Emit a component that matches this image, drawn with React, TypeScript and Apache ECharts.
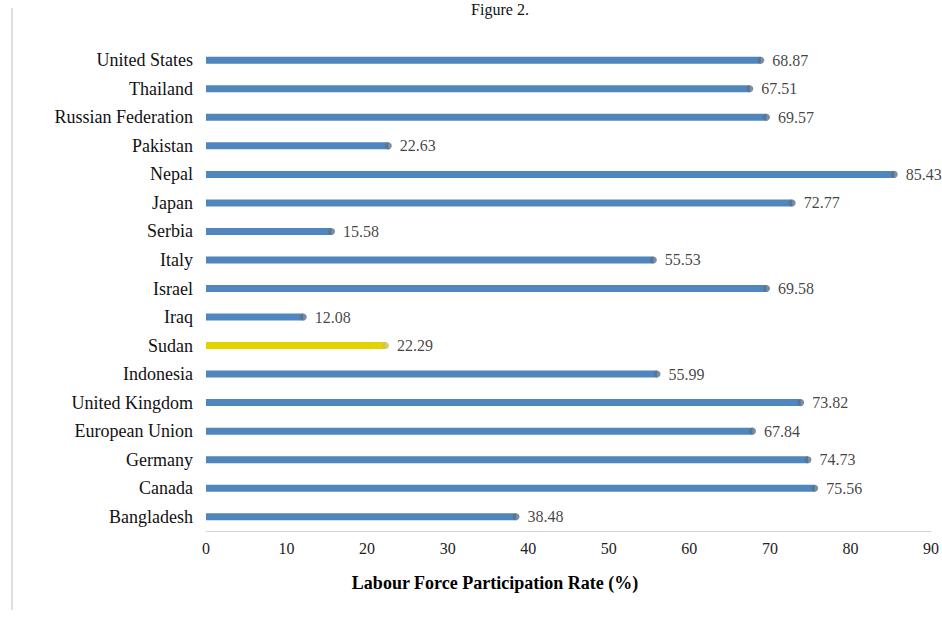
import React, { useEffect, useRef } from "react";
import * as echarts from "echarts";

const countries = [
  "United States",
  "Thailand",
  "Russian Federation",
  "Pakistan",
  "Nepal",
  "Japan",
  "Serbia",
  "Italy",
  "Israel",
  "Iraq",
  "Sudan",
  "Indonesia",
  "United Kingdom",
  "European Union",
  "Germany",
  "Canada",
  "Bangladesh",
];

const rates = [
  68.87, 67.51, 69.57, 22.63, 85.43, 72.77, 15.58, 55.53, 69.58, 12.08, 22.29,
  55.99, 73.82, 67.84, 74.73, 75.56, 38.48,
];

const highlighted = "Sudan";

const xTicks = { min: 0, max: 90, interval: 10 };

const titleText = "Figure 2.";
const axisTitle = "Labour Force Participation Rate (%)";

const FONT = '"Liberation Serif", "DejaVu Serif", "Times New Roman", serif';

export default function App() {
  const ref = useRef<HTMLDivElement>(null);

  useEffect(() => {
    if (!ref.current) return;
    const chart = echarts.init(ref.current, undefined, { renderer: "svg" });
    const barData = rates.map((v, i) => ({
      value: v,
      itemStyle: {
        color: countries[i] === highlighted ? "#e3d400" : "#4f86bd",
      },
    }));
    const dotData = rates.map((v, i) => ({
      value: v,
      itemStyle: {
        color: countries[i] === highlighted ? "#c9c25a" : "#5a708a",
      },
    }));
    chart.setOption({
      animation: false,
      backgroundColor: "#ffffff",
      textStyle: { fontFamily: FONT },
      grid: { left: 206, right: 4, top: 46, bottom: 92, containLabel: false },
      xAxis: {
        type: "value",
        min: xTicks.min,
        max: xTicks.max,
        interval: xTicks.interval,
        axisLine: { show: true, lineStyle: { color: "#d6d6d6", width: 1 } },
        axisTick: { show: false },
        splitLine: { show: false },
        axisLabel: {
          color: "#222",
          fontSize: 16,
          fontFamily: FONT,
          margin: 9,
        },
      },
      yAxis: {
        type: "category",
        data: countries,
        inverse: true,
        axisLine: { show: false },
        axisTick: { show: false },
        splitLine: { show: false },
        axisLabel: {
          color: "#111",
          fontSize: 18,
          fontFamily: FONT,
          margin: 13,
        },
      },
      series: [
        {
          type: "bar",
          data: barData,
          barWidth: 7,
          silent: true,
        },
        {
          type: "scatter",
          data: dotData,
          symbol: "circle",
          symbolSize: 7,
          silent: true,
          label: {
            show: true,
            position: "right",
            distance: 8,
            color: "#111",
            fontSize: 16,
            fontFamily: FONT,
            formatter: (p: any) => Number(p.value).toFixed(2),
          },
        },
      ],
      graphic: [
        {
          type: "text",
          x: 500,
          y: 1,
          style: {
            text: titleText,
            fill: "#111",
            fontSize: 16,
            fontFamily: FONT,
            align: "center",
            verticalAlign: "top",
          },
        },
        {
          type: "text",
          x: 495,
          y: 583,
          style: {
            text: axisTitle,
            fill: "#000",
            fontSize: 18,
            fontWeight: "bold",
            fontFamily: FONT,
            align: "center",
            verticalAlign: "middle",
          },
        },
        {
          type: "line",
          shape: { x1: 12, y1: 8, x2: 12, y2: 610 },
          style: { stroke: "#dedede", lineWidth: 2 },
        },
      ],
    });
    return () => chart.dispose();
  }, []);

  return (
    <div
      ref={ref}
      style={{ position: "absolute", left: 0, top: 0, width: 942, height: 623 }}
    />
  );
}
